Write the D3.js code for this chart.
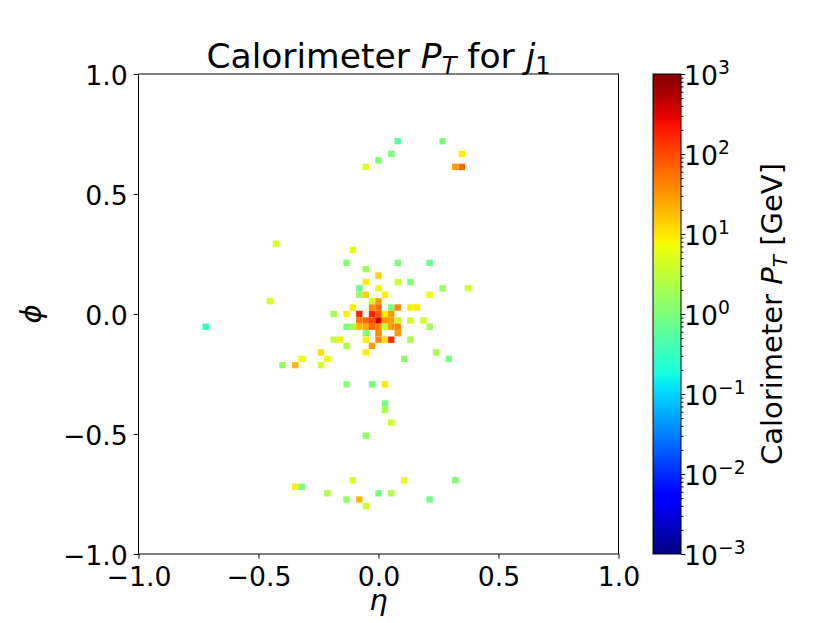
<!DOCTYPE html>

<head>
    <meta charset="utf-8">

    <style>
        body {
            margin: 0;
            background: #fff;
            font-family: 'DejaVu Sans', sans-serif;
        }

        svg {
            position: absolute;
            top: 0;
            left: 0;
        }

        .axis text {
            font-family: 'DejaVu Sans', sans-serif;
            font-size: 26.7px;
            fill: #000;
        }

        .axis path {
            display: none;
        }

        .axis line {
            stroke: #000;
            stroke-width: 1;
        }

        .title, .label {
            font-family: 'DejaVu Sans', sans-serif;
            font-size: 29px;
            fill: #000;
            text-anchor: middle;
        }

        .title {
            font-size: 34.5px;
        }

        .math {
            font-style: italic;
        }
    </style>

    <script src="https://d3js.org/d3.v7.min.js"></script>
</head>

<body>
    <script>
        ////////////// The data //////////////

        //calorimeter cells of the leading jet: eta, phi and pT [GeV]
        const eta = [
            0.080, 0.267, 0.053, 0.000, -0.053, 0.347, 0.320, 0.347,
            -0.427, -0.107, -0.133, 0.080, 0.213, -0.053, 0.000, -0.053, 0.080, 0.133,
            -0.080, 0.000, 0.267, 0.373, -0.080, -0.053, 0.027, 0.213, -0.453, -0.027, 0.000,
            -0.107, -0.027, 0.000, 0.053, 0.080, 0.133, 0.160,
            -0.187, -0.133, -0.080, -0.027, 0.000, 0.027, 0.053,
            -0.080, -0.053, -0.027, 0.000, 0.027, 0.053, 0.080, 0.133, 0.187,
            -0.133, -0.107, -0.080, -0.053, -0.027, 0.000, 0.027, 0.053, 0.080, 0.213,
            -0.053, 0.000, 0.080,
            -0.187, -0.160, -0.053, 0.000, 0.027, 0.053, 0.133,
            -0.133, -0.027,
            -0.240, -0.053, 0.240,
            -0.320, -0.213, 0.107, 0.293,
            -0.400, -0.347, -0.240,
            -0.720,
            -0.133, -0.027, 0.027, 0.027, 0.027, 0.053, -0.053,
            -0.107, 0.107, 0.320, -0.347, -0.320, -0.213, 0.000, 0.053, -0.133, -0.080, 0.213, -0.053
        ]
        const phi = [
            0.720, 0.720, 0.667, 0.640, 0.613, 0.667, 0.613, 0.613,
            0.293, 0.267, 0.213, 0.213, 0.213, 0.187, 0.160, 0.133, 0.133, 0.133,
            0.107, 0.107, 0.107, 0.107, 0.080, 0.080, 0.080, 0.080, 0.053, 0.053, 0.053,
            0.027, 0.027, 0.027, 0.027, 0.027, 0.027, 0.027,
            0.000, 0.000, 0.000, 0.000, 0.000, 0.000, 0.000,
            -0.027, -0.027, -0.027, -0.027, -0.027, -0.027, -0.027, -0.027, -0.027,
            -0.053, -0.053, -0.053, -0.053, -0.053, -0.053, -0.053, -0.053, -0.053, -0.053,
            -0.080, -0.080, -0.080,
            -0.107, -0.107, -0.107, -0.107, -0.107, -0.107, -0.107,
            -0.133, -0.133,
            -0.160, -0.160, -0.160,
            -0.187, -0.187, -0.187, -0.187,
            -0.213, -0.213, -0.213,
            -0.053,
            -0.293, -0.293, -0.293, -0.373, -0.400, -0.453, -0.507,
            -0.693, -0.693, -0.693, -0.720, -0.720, -0.747, -0.747, -0.747, -0.773, -0.773, -0.773, -0.800
        ]
        const pt = [
            0.55, 1.0, 1.0, 1.0, 4.5, 9, 30, 65,
            4.5, 6, 1.2, 1.1, 0.7, 1.7, 14, 9, 4, 1.0,
            0.7, 6, 1.6, 4, 1.6, 14, 9, 7, 4.5, 5, 30,
            9, 38, 60, 1.1, 38, 9, 9,
            1.8, 9, 170, 170, 80, 9, 30,
            50, 65, 100, 400, 30, 30, 4, 4, 4,
            1.0, 2.2, 19, 24, 65, 40, 3, 30, 40, 1.8,
            1.0, 40, 30,
            3, 9, 9, 40, 11, 140, 2.2,
            2.2, 30,
            11, 9, 2.2,
            7, 7, 1.2, 0.9,
            1.5, 19, 4,
            0.3,
            1.2, 0.9, 9, 0.9, 2.2, 4, 1.4,
            4, 7, 1.2, 9, 0.9, 2.2, 0.9, 2.2, 1.4, 19, 0.9, 4
        ]

        const bin_width = 2 / 75
        const axis_ticks = [-1, -0.5, 0, 0.5, 1]
        const cbar_ticks = [1e-3, 1e-2, 1e-1, 1e0, 1e1, 1e2, 1e3]

        ////////////// Create the SVG //////////////

        let margin = {
            top: 74,
            left: 138.5
        }
        let width = 480,
            height = 480

        let svg_root = d3.select("body")
            .append("svg")
            .attr("width", 830)
            .attr("height", 623)

        let svg = svg_root.append("g")
            .attr("transform", "translate(" + margin.left + "," + margin.top + ")")

        ////////////// Scales //////////////

        const x_scale = d3.scaleLinear().domain([-1, 1]).range([0, width])
        const y_scale = d3.scaleLinear().domain([-1, 1]).range([height, 0])

        //matplotlib "jet"
        const jet_r = d3.scaleLinear().domain([0, 0.35, 0.66, 0.89, 1]).range([0, 0, 1, 1, 0.5]).clamp(true)
        const jet_g = d3.scaleLinear().domain([0, 0.125, 0.375, 0.64, 0.91, 1]).range([0, 0, 1, 1, 0, 0]).clamp(true)
        const jet_b = d3.scaleLinear().domain([0, 0.11, 0.34, 0.65, 1]).range([0.5, 1, 1, 0, 0]).clamp(true)
        const jet = t => d3.rgb(255 * jet_r(t), 255 * jet_g(t), 255 * jet_b(t))

        const norm = d3.scaleLog().domain([1e-3, 1e3]).range([0, 1]).clamp(true)
        const color_scale = v => jet(norm(v))

        ////////////// Cells //////////////

        let cell = x_scale(bin_width) - x_scale(0)

        svg.selectAll(".cell")
            .data(d3.range(pt.length))
            .enter().append("rect")
            .attr("class", "cell")
            .attr("x", i => x_scale(eta[i] - bin_width / 2))
            .attr("y", i => y_scale(phi[i] + bin_width / 2))
            .attr("width", cell)
            .attr("height", cell)
            .attr("fill", i => color_scale(pt[i]))

        ////////////// Axes //////////////

        svg.append("g")
            .attr("class", "axis x")
            .attr("transform", "translate(0," + height + ")")
            .call(d3.axisBottom(x_scale)
                .tickValues(axis_ticks)
                .tickSize(4.7)
                .tickSizeOuter(0)
                .tickPadding(8.5)
                .tickFormat(d3.format(".1f")))

        svg.append("g")
            .attr("class", "axis y")
            .call(d3.axisLeft(y_scale)
                .tickValues(axis_ticks)
                .tickSize(4.7)
                .tickSizeOuter(0)
                .tickPadding(6)
                .tickFormat(d3.format(".1f")))
            .selectAll("text")
            .attr("dy", "0.4em")

        //frame
        svg.append("rect")
            .attr("width", width)
            .attr("height", height)
            .attr("fill", "none")
            .attr("stroke", "#000")
            .attr("stroke-width", 1)

        ////////////// Titles //////////////

        let title = svg.append("text")
            .attr("class", "title")
            .attr("x", width / 2)
            .attr("y", -6)
        title.append("tspan").text("Calorimeter ")
        title.append("tspan").attr("class", "math").text("P")
        title.append("tspan").attr("class", "math").attr("font-size", "24px").attr("dy", 6).text("T")
        title.append("tspan").attr("dy", -6).text(" for ")
        title.append("tspan").attr("class", "math").text("j")
        title.append("tspan").attr("font-size", "24px").attr("dy", 6).text("1")

        svg.append("text")
            .attr("class", "label math")
            .attr("x", width / 2)
            .attr("y", 536)
            .text("η")

        svg.append("text")
            .attr("class", "label math")
            .attr("transform", "translate(-98," + height / 2 + ") rotate(-90)")
            .text("ϕ")

        ////////////// Colorbar //////////////

        let cbar = { x: 653, width: 28 }

        const cbar_scale = d3.scaleLog().domain([1e-3, 1e3]).range([height, 0])

        let grad = svg_root.append("defs").append("linearGradient")
            .attr("id", "jet")
            .attr("x1", 0).attr("y1", 1)
            .attr("x2", 0).attr("y2", 0)
        grad.selectAll("stop")
            .data(d3.range(0, 1.0001, 0.01))
            .enter().append("stop")
            .attr("offset", d => d)
            .attr("stop-color", d => jet(d))

        let cbar_g = svg_root.append("g")
            .attr("transform", "translate(" + cbar.x + "," + margin.top + ")")

        cbar_g.append("rect")
            .attr("width", cbar.width)
            .attr("height", height)
            .attr("fill", "url(#jet)")
            .attr("stroke", "#000")
            .attr("stroke-width", 1)

        //minor ticks
        let minor = []
        cbar_ticks.slice(0, -1).forEach(d => {
            for (let k = 2; k < 10; k++) minor.push(d * k)
        })
        cbar_g.append("g")
            .attr("class", "axis")
            .attr("transform", "translate(" + cbar.width + ",0)")
            .call(d3.axisRight(cbar_scale)
                .tickValues(minor)
                .tickSize(2.5)
                .tickSizeOuter(0)
                .tickFormat(""))

        let cbar_axis = cbar_g.append("g")
            .attr("class", "axis")
            .attr("transform", "translate(" + cbar.width + ",0)")
            .call(d3.axisRight(cbar_scale)
                .tickValues(cbar_ticks)
                .tickSize(4.3)
                .tickSizeOuter(0)
                .tickFormat(""))

        cbar_axis.selectAll(".tick text").each(function (d) {
            let t = d3.select(this)
                .attr("x", 3)
                .attr("dy", "0.38em")
                .attr("text-anchor", "start")
            let p = Math.round(Math.log10(d))
            t.append("tspan").text("10")
            t.append("tspan")
                .attr("font-size", "18.7px")
                .attr("dy", -10.5)
                .text(String(p).replace("-", "\u2212"))
        })

        //colorbar label
        let clabel = svg_root.append("text")
            .attr("class", "label")
            .attr("transform", "translate(782," + (margin.top + height / 2) + ") rotate(-90)")
        clabel.append("tspan").text("Calorimeter ")
        clabel.append("tspan").attr("class", "math").text("P")
        clabel.append("tspan").attr("class", "math").attr("font-size", "20px").attr("dy", 5).text("T")
        clabel.append("tspan").attr("dy", -5).text(" [GeV]")

    </script>
</body>
